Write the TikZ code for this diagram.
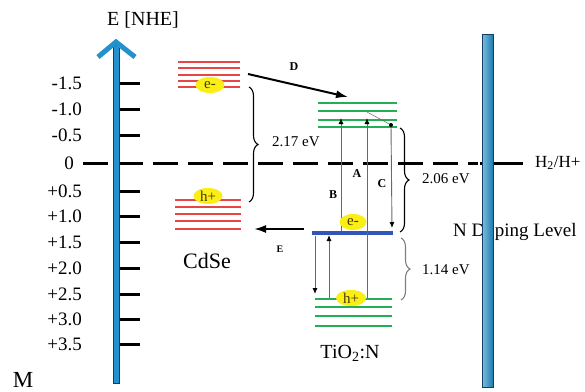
\documentclass[tikz,border=0pt]{standalone}
\usepackage{fontspec}
\setmainfont{Liberation Serif}
\usetikzlibrary{decorations.pathreplacing,arrows.meta,shapes.geometric}
\definecolor{axblue}{RGB}{35,145,205}
\definecolor{axdark}{RGB}{20,60,100}
\definecolor{lvred}{RGB}{232,70,70}
\definecolor{lvgreen}{RGB}{35,175,85}
\definecolor{nblue}{RGB}{50,85,185}
\definecolor{hlyellow}{RGB}{250,238,20}
\definecolor{thingray}{RGB}{105,105,105}
\definecolor{cartext}{RGB}{70,55,10}
\tikzset{
  lab/.style={font=\fontsize{19}{21}\selectfont, inner sep=0pt},
  tickmark/.style={line width=3pt},
  redlv/.style={lvred, line width=2.6pt},
  greenlv/.style={lvgreen, line width=2.6pt},
  thinarr/.style={draw=thingray, line width=0.9pt, -{Latex[length=6pt,width=5pt,color=black]}},
  bolder/.style={line width=2pt, -{Latex[length=12pt,width=8pt]}},
  letter/.style={font=\bfseries\fontsize{12}{14}\selectfont, inner sep=0pt},
  carrier/.style={ellipse, fill=hlyellow, inner sep=0pt, minimum width=29pt, minimum height=16pt, text=cartext, font=\fontsize{15}{17}\selectfont},
  bracestyle/.style={decorate, decoration={brace, amplitude=9pt}, line width=1.1pt},
  evtext/.style={font=\fontsize{15}{17}\selectfont, inner sep=0pt, anchor=west}
}
\begin{document}
\begin{tikzpicture}[x=1pt,y=-1pt]
\useasboundingbox (0,0) rectangle (585,391);

% zero line
\draw[line width=3pt, dash pattern=on 25pt off 10pt] (83,163) -- (478,163);
\draw[line width=3pt] (480,163) -- (523,163);

% energy axis
\node[lab, font=\fontsize{20}{22}\selectfont] (etitle) at (143,20) {E [NHE]};
\draw[draw=axdark, line width=0.8pt, fill=axblue] (113,45) rectangle (119,383);
\draw[axblue, line width=5pt] (98,57) -- (116,42) -- (135,57);
\foreach \v/\y [count=\i] in {-1.5/83,-1.0/109,-0.5/135,+0.5/191,+1.0/216,+1.5/242,+2.0/268,+2.5/294,+3.0/319,+3.5/344}{
  \draw[tickmark] (120,\y) -- (140,\y);
  \node[lab, anchor=east] (tl\i) at (82,\y) {\v};
}
\node[lab, anchor=east] (tl0) at (74,163) {0};

% CdSe levels
\foreach \y in {62,68,75,81,87} \draw[redlv] (178,\y) -- (240,\y);
\foreach \y in {200,207,214,221,229} \draw[redlv] (175,\y) -- (241,\y);
\node[carrier] (ecd) at (210,85) {e-};
\node[carrier] (hcd) at (208,196) {h+};
\node[lab, font=\fontsize{22}{24}\selectfont] (cdse) at (207,261) {CdSe};

% TiO2:N levels
\foreach \y in {103,111,120,127} \draw[greenlv] (318,\y) -- (397,\y);
\foreach \y in {299,307,316,326} \draw[greenlv] (315,\y) -- (392,\y);
\draw[nblue, line width=4pt] (312,233) -- (393,233);
\node[lab, font=\fontsize{20}{22}\selectfont] (tio) at (350,353) {TiO\textsubscript{2}:N};

% transitions
\coordinate (Bbot) at (341,231);
\coordinate (Btop) at (341,118);
\coordinate (Abot) at (367,298);
\coordinate (Atop) at (367,118);
\coordinate (Ctop) at (391,125);
\coordinate (Cbot) at (392,228);
\coordinate (Cfa) at (367,112);
\draw[thinarr] (Bbot) -- (Btop);
\draw[thinarr] (Abot) -- (Atop);
\draw[thinarr] (Ctop) -- (Cbot);
\draw[thingray, line width=0.5pt] (Cfa) -- (Ctop);
\fill (Ctop) circle (2pt);
\node[letter] (la) at (357,174) {A};
\node[letter] (lb) at (333,195) {B};
\node[letter] (lc) at (382,184) {C};

\coordinate (Ldtop) at (315,236);
\coordinate (Ldbot) at (315,294);
\coordinate (Lubot) at (329,298);
\coordinate (Lutop) at (329,235);
\draw[thinarr] (Ldtop) -- (Ldbot);
\draw[thinarr] (Lubot) -- (Lutop);

\node[carrier, minimum width=27pt] (etio) at (353,222) {e-};
\node[carrier, minimum width=30pt] (htio) at (351,298) {h+};

% D and E transfer arrows
\coordinate (Ds) at (248,74);
\coordinate (De) at (348,97);
\draw[bolder] (Ds) -- (De);
\node[letter] (ld) at (294,67) {D};
\coordinate (Es) at (304,229);
\coordinate (Ee) at (254,229);
\draw[bolder] (Es) -- (Ee);
\node[letter, font=\bfseries\fontsize{10}{12}\selectfont] (le) at (280,249) {E};

% braces
\coordinate (b1t) at (249,87);
\coordinate (b1b) at (249,202);
\draw[bracestyle] (b1t) -- (b1b);
\node[evtext] (ev1) at (272,142) {2.17 eV};
\coordinate (b2t) at (400,128);
\coordinate (b2b) at (400,232);
\draw[bracestyle] (b2t) -- (b2b);
\node[evtext] (ev2) at (422,179) {2.06 eV};
\coordinate (b3t) at (401,238);
\coordinate (b3b) at (401,300);
\draw[bracestyle, draw=gray] (b3t) -- (b3b);
\node[evtext] (ev3) at (422,270) {1.14 eV};

% N doping bar
\node[lab, anchor=west] (ndop) at (453,232) {N Doping Level};
\draw[draw=axdark, line width=1pt, left color=axblue!60!white, right color=axblue!85!black] (482,34) rectangle (493,387);
\node[lab, anchor=west, font=\fontsize{17}{19}\selectfont] (h2) at (535,163) {H\textsubscript{2}/H+};

\node[lab, font=\fontsize{23}{25}\selectfont] (m) at (23,380) {M};
\end{tikzpicture}
\end{document}
